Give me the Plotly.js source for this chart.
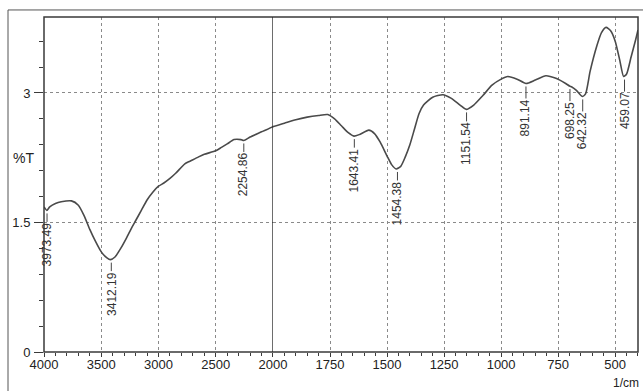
<!DOCTYPE html>
<html>
<head>
<meta charset="utf-8">
<script src="https://cdn.plot.ly/plotly-3.0.1.min.js"></script>
<style>html,body{margin:0;padding:0;background:#fff;}#chart{width:643px;height:391px;}</style>
</head>
<body>
<div id="chart"></div>
<script>
// Wavenumbers (1/cm) and %T values
const wavenumber = [4000,3975,3950,3900,3850,3760,3700,3650,3600,3550,3500,3450,3420,3380,3330,3280,3230,3200,3150,3100,3050,3000,2950,2900,2850,2800,2770,2725,2650,2600,2500,2450,2400,2340,2280,2255,2200,2100,2000,1950,1900,1850,1800,1760,1730,1700,1670,1645,1620,1580,1555,1530,1500,1480,1460,1440,1420,1400,1380,1360,1340,1300,1255,1220,1180,1153,1120,1080,1040,1000,971,930,891,850,804,760,717,700,690,670,645,630,610,580,560,540,520,500,480,463,450,430,410,400];
const transmittance = [1.68,1.64,1.68,1.72,1.74,1.75,1.70,1.58,1.42,1.28,1.16,1.09,1.07,1.10,1.20,1.32,1.45,1.52,1.64,1.76,1.85,1.92,1.96,2.01,2.07,2.14,2.18,2.21,2.26,2.29,2.33,2.37,2.41,2.46,2.46,2.45,2.49,2.55,2.61,2.65,2.69,2.72,2.74,2.75,2.70,2.62,2.54,2.50,2.52,2.57,2.53,2.43,2.27,2.17,2.12,2.15,2.26,2.40,2.58,2.76,2.86,2.95,2.98,2.94,2.86,2.81,2.86,2.97,3.09,3.16,3.19,3.16,3.11,3.15,3.20,3.17,3.11,3.08,3.07,3.03,2.96,2.99,3.25,3.55,3.70,3.76,3.72,3.60,3.38,3.19,3.22,3.42,3.62,3.73];

// Labelled peaks
const peakLabels = ["3973.49","3412.19","2254.86","1643.41","1454.38","1151.54","891.14","698.25","642.32","459.07"];
const peakX = [3973.49,3412.19,2254.86,1643.41,1454.38,1151.54,891.14,698.25,642.32,459.07];
const peakY = [1.64,1.07,2.45,2.50,2.12,2.81,3.11,3.08,2.96,3.19];

// Axis ticks
const yTicks = [0,1.5,3];
const xTicksHigh = [4000,3500,3000,2500,2000];
const xTicksLow = [1750,1500,1250,1000,750,500];

const FONT = "Liberation Sans Narrow, Arial Narrow, Liberation Sans, Arial, sans-serif";
const lineColor = "#3a3a3a";
const split = 0.3855;

const trace1 = {x: wavenumber, y: transmittance, xaxis:'x', yaxis:'y', type:'scatter', mode:'lines',
  line:{color:'#4a4a4a', width:1.6, shape:'spline', smoothing:0.6}, hoverinfo:'skip', showlegend:false};
const trace2 = Object.assign({}, trace1, {xaxis:'x2'});

const gridStyle = {showgrid:true, gridcolor:'#8a8a8a', gridwidth:1, griddash:'dot'};
const tickFont = {family: FONT, size: 13, color:'#222'};

const annotations = peakLabels.map((t,i)=>({
  text: t, x: peakX[i], y: peakY[i], xref: peakX[i] >= 2000 ? 'x' : 'x2', yref:'y',
  textangle: -90, showarrow: true, arrowhead: 0, arrowwidth: 1, arrowcolor: '#444',
  ax: 0, ay: 34, standoff: 3, font: {family: FONT, size: 12, color:'#333'}, borderpad: 0
}));
annotations.push({text:'%T', xref:'paper', yref:'paper', x:-0.034, y:0.579, xanchor:'center', yanchor:'middle', showarrow:false,
  font:{family:FONT, size:14, color:'#222'}});
annotations.push({text:'1/cm', xref:'paper', yref:'paper', x:0.979, y:-0.094, xanchor:'center', yanchor:'middle', showarrow:false,
  font:{family:FONT, size:12, color:'#222'}});

const layout = {
  width: 643, height: 391,
  margin: {l:44, r:5, t:17, b:39, pad:0},
  paper_bgcolor:'#fff', plot_bgcolor:'#fff',
  showlegend:false,
  xaxis: Object.assign({domain:[0, split], range:[4000,2000], anchor:'y', tickvals: xTicksHigh,
    ticks:'outside', ticklen:4, tickcolor:lineColor, tickfont:tickFont, ticklabelstandoff:-4, showline:false, zeroline:false,
    minor:{dtick:100, tick0:0, ticks:'outside', ticklen:3, tickcolor:lineColor, showgrid:false}}, gridStyle),
  xaxis2: Object.assign({domain:[split, 1], range:[2000,400], anchor:'y', tickvals: xTicksLow,
    ticks:'outside', ticklen:4, tickcolor:lineColor, tickfont:tickFont, ticklabelstandoff:-4, showline:false, zeroline:false,
    minor:{dtick:50, tick0:0, ticks:'outside', ticklen:3, tickcolor:lineColor, showgrid:false}}, gridStyle),
  yaxis: Object.assign({range:[0,3.88], tickvals: yTicks, ticktext: yTicks.map(String),
    ticks:'outside', ticklen:9, tickcolor:lineColor, tickfont:tickFont, ticklabelstandoff:1, showline:false, zeroline:false,
    minor:{dtick:0.3, tick0:0, ticks:'outside', ticklen:4, tickcolor:lineColor, showgrid:false}}, gridStyle),
  shapes: [
    {type:'rect', xref:'paper', yref:'paper', x0:0, x1:1, y0:0, y1:1, line:{color:lineColor, width:1.5}, layer:'above'},
    {type:'line', xref:'x', yref:'paper', x0:2000, x1:2000, y0:0, y1:1, line:{color:'#222', width:1.3}, layer:'above'},
    {type:'rect', xref:'paper', yref:'paper', x0:-0.0606, x1:1.03, y0:-0.13, y1:1.021, line:{color:'#555', width:1}, layer:'below'}
  ],
  annotations: annotations
};

Plotly.newPlot('chart', [trace1, trace2], layout, {staticPlot:true, displayModeBar:false});
</script>
</body>
</html>
